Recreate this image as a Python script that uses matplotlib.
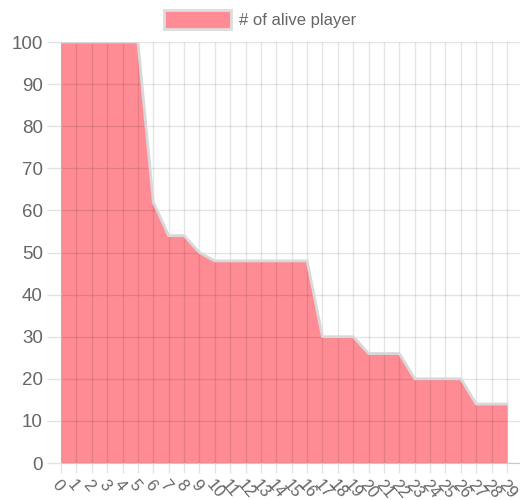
import matplotlib
matplotlib.use("Agg")
import matplotlib.pyplot as plt
from matplotlib.patches import Patch

rounds = list(range(30))
alive = [100, 100, 100, 100, 100, 100, 62, 54, 54, 50,
         48, 48, 48, 48, 48, 48, 48, 30, 30, 30,
         26, 26, 26, 20, 20, 20, 20, 14, 14, 14]
x_labels = [str(i) for i in rounds]
y_ticks = list(range(0, 101, 10))

fill_color = "#ff8c94"
line_color = "#d8d8d8"
text_color = "#666666"

plt.rcParams["font.family"] = ["Liberation Sans", "DejaVu Sans"]

fig = plt.figure(figsize=(5.2, 5.0), dpi=100)
W, H = 520, 500
left, right, top, bottom = 61, 520, 42, 463
ax = fig.add_axes([left / W, (H - bottom) / H, (right - left) / W, (bottom - top) / H])

ax.fill_between(rounds, alive, 0, color=fill_color, linewidth=0, zorder=2)
ax.plot(rounds, alive, color=line_color, linewidth=2, zorder=3)

step = (507 - 61) / 29
ax.set_xlim(0, (right - left) / step)
ax.set_ylim(0, 100)

ax.set_xticks(rounds)
ax.set_xticklabels(x_labels, rotation=-50, ha="left", va="top",
                   rotation_mode="anchor", fontsize=12, color=text_color)
ax.set_yticks(y_ticks)
ax.set_yticklabels([str(v) for v in y_ticks], fontsize=13.5, color=text_color)

ax.grid(True, color="black", alpha=0.1, linewidth=1, zorder=2.5)
ax.set_axisbelow(False)

ax.tick_params(axis="both", length=10, width=1, color="#e3e3e3", pad=3)
ax.tick_params(axis="x", length=7)
for side in ["top", "right"]:
    ax.spines[side].set_visible(False)
ax.spines["left"].set_color("#c8c8c8")
ax.spines["bottom"].set_color("#c8c8c8")

handle = Patch(facecolor=fill_color, edgecolor="#dddddd", linewidth=2)
fig.legend([handle], ["# of alive player"], loc="upper center",
           bbox_to_anchor=(0.5, 1.0), frameon=False, fontsize=12,
           labelcolor=text_color, handlelength=4.0, handleheight=1.4,
           borderaxespad=0.2, handletextpad=0.5)

fig.savefig("out.png", dpi=100)
